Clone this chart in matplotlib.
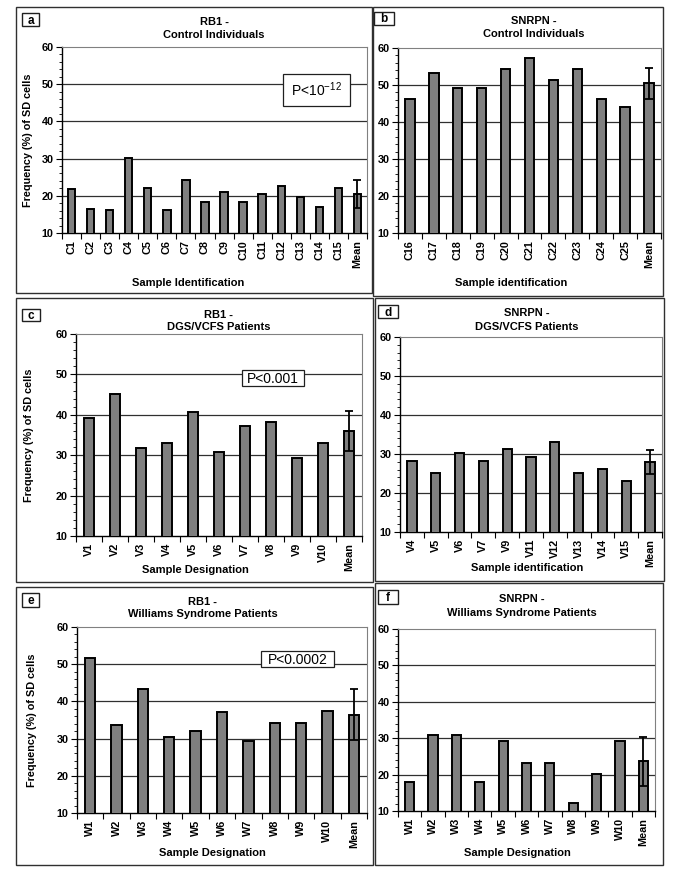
import matplotlib
matplotlib.use('Agg')
import matplotlib.pyplot as plt
from matplotlib.patches import Rectangle
import numpy as np

plt.rcParams['font.family'] = ['Liberation Sans', 'DejaVu Sans']
plt.rcParams['mathtext.fontset'] = 'custom'
plt.rcParams['mathtext.rm'] = 'Liberation Sans'

W, H = 685, 877

# panel a - RB1, control individuals
a_labels = ['C1', 'C2', 'C3', 'C4', 'C5', 'C6', 'C7', 'C8', 'C9', 'C10',
            'C11', 'C12', 'C13', 'C14', 'C15', 'Mean']
a_values = [21.8, 16.4, 16.2, 30.2, 22.0, 16.2, 24.2, 18.3, 21.1, 18.3,
            20.5, 22.7, 19.8, 17.0, 22.1, 20.5]
a_err = 3.7

# panel b - SNRPN, control individuals
b_labels = ['C16', 'C17', 'C18', 'C19', 'C20', 'C21', 'C22', 'C23', 'C24', 'C25', 'Mean']
b_values = [46.2, 53.2, 49.2, 49.2, 54.2, 57.3, 51.3, 54.2, 46.2, 44.1, 50.5]
b_err = 4.2

# panel c - RB1, DGS/VCFS patients
c_labels = ['V1', 'V2', 'V3', 'V4', 'V5', 'V6', 'V7', 'V8', 'V9', 'V10', 'Mean']
c_values = [39.3, 45.2, 31.9, 33.1, 40.8, 30.9, 37.2, 38.3, 29.4, 33.1, 36.0]
c_err = 5.0

# panel d - SNRPN, DGS/VCFS patients
d_labels = ['V4', 'V5', 'V6', 'V7', 'V9', 'V11', 'V12', 'V13', 'V14', 'V15', 'Mean']
d_values = [28.1, 25.1, 30.2, 28.1, 31.2, 29.2, 33.1, 25.1, 26.1, 23.2, 27.9]
d_err = 3.0

# panel e - RB1, Williams syndrome patients
e_labels = ['W1', 'W2', 'W3', 'W4', 'W5', 'W6', 'W7', 'W8', 'W9', 'W10', 'Mean']
e_values = [51.7, 33.7, 43.3, 30.5, 32.1, 37.2, 29.3, 34.2, 34.2, 37.5, 36.4]
e_err = 6.8

# panel f - SNRPN, Williams syndrome patients
f_labels = ['W1', 'W2', 'W3', 'W4', 'W5', 'W6', 'W7', 'W8', 'W9', 'W10', 'Mean']
f_values = [18.1, 31.0, 31.0, 18.1, 29.2, 23.1, 23.1, 12.1, 20.2, 29.2, 23.6]
f_err = 6.6

panels = [
    dict(tag='a', labels=a_labels, values=a_values, err=a_err,
         title=['RB1 -', 'Control Individuals'], xlabel='Sample Identification',
         ylabel=True, pval=r'P<10$^{\mathregular{-12}}$', pbase=96,
         frame=(16, 7, 372, 293), plot=(62, 47, 367, 233), tagbox=(22, 13, 39, 26),
         tpos=(214, 22, 35), xlpos=(188, 283), ylx=28, pbox=(283, 74, 350, 106)),
    dict(tag='b', labels=b_labels, values=b_values, err=b_err,
         title=['SNRPN -', 'Control Individuals'], xlabel='Sample identification',
         ylabel=False, pval=None, pbase=None,
         frame=(373, 7, 663, 296), plot=(398, 48, 661, 233), tagbox=(374, 12, 394, 25),
         tpos=(534, 21, 34), xlpos=(511, 283), ylx=None, pbox=None),
    dict(tag='c', labels=c_labels, values=c_values, err=c_err,
         title=['RB1 -', 'DGS/VCFS Patients'], xlabel='Sample Designation',
         ylabel=True, pval='P<0.001', pbase=382.5,
         frame=(16, 298, 373, 582), plot=(76, 334, 362, 536), tagbox=(22, 309, 40, 321),
         tpos=(219, 315, 327), xlpos=(195, 570), ylx=29, pbox=(242, 370, 304, 386)),
    dict(tag='d', labels=d_labels, values=d_values, err=d_err,
         title=['SNRPN -', 'DGS/VCFS Patients'], xlabel='Sample identification',
         ylabel=False, pval=None, pbase=None,
         frame=(375, 298, 664, 581), plot=(400, 337, 662, 532), tagbox=(378, 305, 398, 318),
         tpos=(527, 313, 327), xlpos=(527, 568), ylx=None, pbox=None),
    dict(tag='e', labels=e_labels, values=e_values, err=e_err,
         title=['RB1 -', 'Williams Syndrome Patients'], xlabel='Sample Designation',
         ylabel=True, pval='P<0.0002', pbase=663.5,
         frame=(16, 587, 373, 865), plot=(77, 627, 367, 813), tagbox=(22, 593, 39, 607),
         tpos=(203, 602, 614), xlpos=(212, 853), ylx=32, pbox=(261, 651, 334, 667)),
    dict(tag='f', labels=f_labels, values=f_values, err=f_err,
         title=['SNRPN -', 'Williams Syndrome Patients'], xlabel='Sample Designation',
         ylabel=False, pval=None, pbase=None,
         frame=(375, 583, 663, 865), plot=(398, 629, 655, 811), tagbox=(378, 590, 398, 604),
         tpos=(522, 599, 613), xlpos=(517, 853), ylx=None, pbox=None),
]


def fx(x):
    return x / W


def fy(y):
    return 1 - y / H


def fig_rect(fig, box, lw=1.0, color='#202020', z=5):
    x0, y0, x1, y1 = box
    r = Rectangle((fx(x0), fy(y1)), fx(x1) - fx(x0), fy(y0) - fy(y1),
                  transform=fig.transFigure, fill=True, facecolor='white',
                  edgecolor=color, linewidth=lw, zorder=z)
    fig.patches.append(r)


fig = plt.figure(figsize=(W / 100, H / 100), dpi=100)

for p in panels:
    fx0, fy0, fx1, fy1 = p['frame']
    r = Rectangle((fx(fx0), fy(fy1)), fx(fx1) - fx(fx0), fy(fy0) - fy(fy1),
                  transform=fig.transFigure, fill=False, edgecolor='#303030',
                  linewidth=1.0, zorder=0)
    fig.patches.append(r)

    x0, y0, x1, y1 = p['plot']
    ax = fig.add_axes([fx(x0), fy(y1), fx(x1) - fx(x0), fy(y0) - fy(y1)])
    n = len(p['values'])
    xs = np.arange(n)
    ax.bar(xs, p['values'], width=0.39, color='#7f7f7f', edgecolor='black',
           linewidth=1.4, zorder=3)
    ax.errorbar(xs[-1], p['values'][-1], yerr=p['err'], fmt='none', ecolor='black',
                elinewidth=1.3, capsize=3, capthick=1.3, zorder=4)
    ax.set_xlim(-0.5, n - 0.5)
    ax.set_ylim(10, 60)
    ax.set_yticks([10, 20, 30, 40, 50, 60])
    ax.set_yticks(np.arange(10, 61, 2), minor=True)
    ax.set_xticks(xs)
    ax.set_xticklabels(p['labels'], rotation=90, fontsize=7.8, fontweight='bold')
    ax.set_xticks(np.arange(n + 1) - 0.5, minor=True)
    ax.tick_params(axis='x', which='major', length=0, pad=5)
    ax.tick_params(axis='x', which='minor', length=4, width=0.8, direction='out')
    ax.tick_params(axis='y', which='major', length=4, width=0.8, labelsize=7.8, pad=2)
    ax.tick_params(axis='y', which='minor', length=2.5, width=0.6)
    for lab in ax.get_yticklabels():
        lab.set_fontweight('bold')
    for gv in [20, 30, 40, 50]:
        ax.axhline(gv, color='#303030', linewidth=0.9, zorder=1)
    ax.spines['top'].set_color('#808080')
    ax.spines['right'].set_color('#808080')
    ax.spines['top'].set_linewidth(0.8)
    ax.spines['right'].set_linewidth(0.8)
    ax.spines['left'].set_linewidth(1.0)
    ax.spines['bottom'].set_linewidth(1.0)

    # panel tag box
    fig_rect(fig, p['tagbox'], lw=1.0)
    tx0, ty0, tx1, ty1 = p['tagbox']
    fig.text(fx((tx0 + tx1) / 2), fy((ty0 + ty1) / 2 + 4), p['tag'], ha='center',
             va='baseline', fontsize=8.5, fontweight='bold', zorder=6)

    # titles
    cx, t1, t2 = p['tpos']
    fig.text(fx(cx), fy(t1), p['title'][0], ha='center', va='center',
             fontsize=8, fontweight='bold')
    fig.text(fx(cx), fy(t2), p['title'][1], ha='center', va='center',
             fontsize=8, fontweight='bold')

    # x label
    lx, ly = p['xlpos']
    fig.text(fx(lx), fy(ly), p['xlabel'], ha='center', va='center',
             fontsize=8, fontweight='bold')

    if p['ylabel']:
        fig.text(fx(p['ylx']), fy((y0 + y1) / 2), 'Frequency (%) of SD cells',
                 ha='center', va='center', rotation=90, fontsize=7.8,
                 fontweight='bold')

    if p['pval']:
        fig_rect(fig, p['pbox'], lw=0.9)
        bx0, by0, bx1, by1 = p['pbox']
        fig.text(fx((bx0 + bx1) / 2), fy(p['pbase']), p['pval'], ha='center',
                 va='baseline', fontsize=10, zorder=6)

fig.savefig('out.png', dpi=100)
